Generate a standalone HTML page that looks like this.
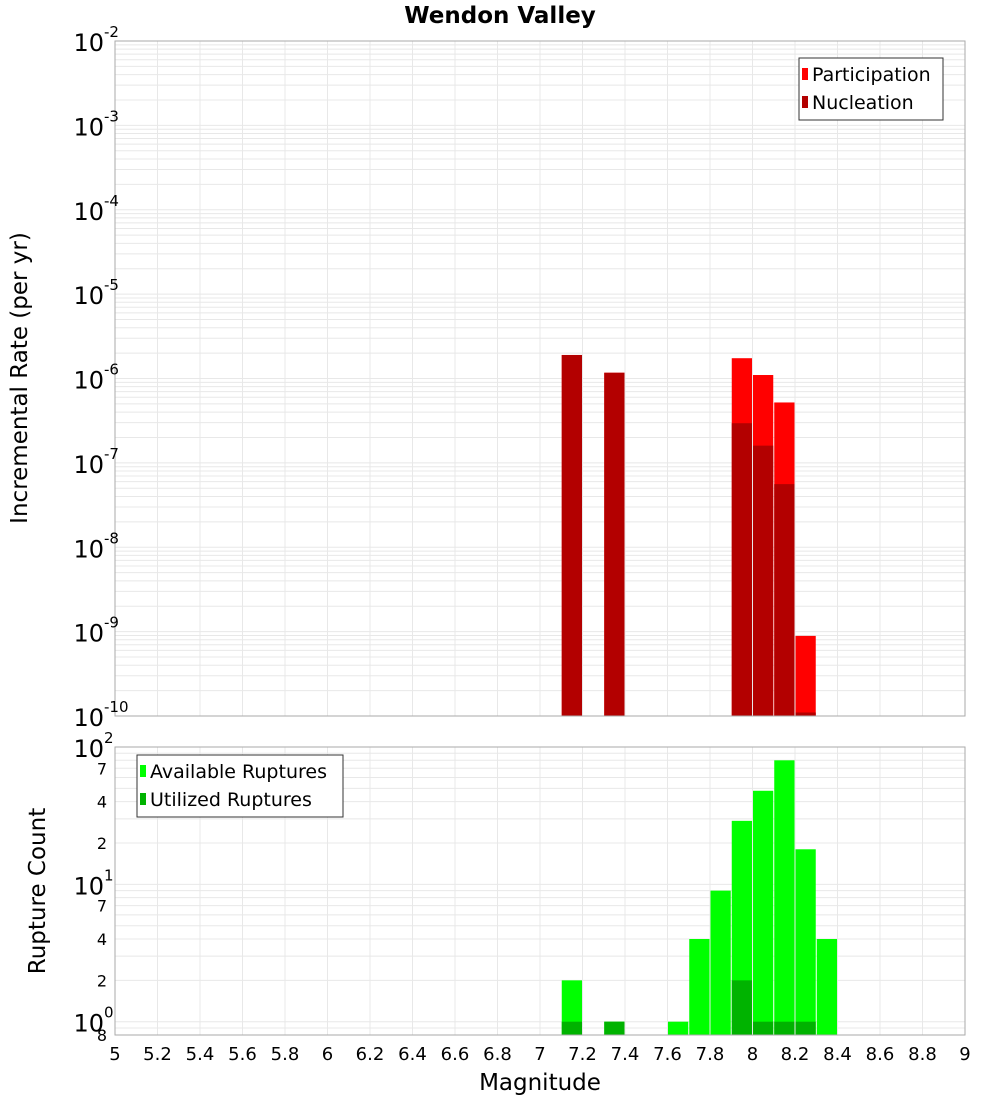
<!DOCTYPE html>
<html><head><meta charset="utf-8"><style>
body{margin:0;background:#fff;}
svg{display:block;font-family:"Liberation Sans","DejaVu Sans",sans-serif;}
</style></head><body>
<svg id="chart" width="1000" height="1100" xmlns="http://www.w3.org/2000/svg">
<rect width="1000" height="1100" fill="#fff"/>
<text x="500" y="23" text-anchor="middle" font-size="23" font-weight="bold" font-family="DejaVu Sans, sans-serif">Wendon Valley</text>
<g id="topPlot"></g>
<g id="botPlot"></g>
<text x="540" y="1090" text-anchor="middle" font-size="23" font-family="DejaVu Sans, sans-serif">Magnitude</text>
<text transform="translate(27,378) rotate(-90)" text-anchor="middle" font-size="23" font-family="DejaVu Sans, sans-serif">Incremental Rate (per yr)</text>
<text transform="translate(45,891) rotate(-90)" text-anchor="middle" font-size="23" font-family="DejaVu Sans, sans-serif">Rupture Count</text>
</svg>
<script>
const rateMags=[7.15,7.35,7.95,8.05,8.15,8.25];
const participation=[1.9e-6,1.17e-6,1.74e-6,1.1e-6,5.2e-7,8.9e-10];
const nucleation=[1.9e-6,1.17e-6,2.95e-7,1.6e-7,5.6e-8,1.1e-10];
const countMags=[7.15,7.35,7.65,7.75,7.85,7.95,8.05,8.15,8.25,8.35];
const available=[2,1,1,4,9,29,48,80,18,4];
const utilized=[1,1,0,0,0,2,1,1,1,0];
const xTicks=[5,5.2,5.4,5.6,5.8,6,6.2,6.4,6.6,6.8,7,7.2,7.4,7.6,7.8,8,8.2,8.4,8.6,8.8,9];
const topDecades=[-10,-9,-8,-7,-6,-5,-4,-3,-2];
const botMinorLabels=[2,4,7,20,40,70];

const NS="http://www.w3.org/2000/svg";
const X0=115,X1=965;
const xs=m=>X0+(m-5)/4*(X1-X0);
const T0=41,T1=716;
const yTop=v=>T0+(-2-Math.log10(v))/8*(T1-T0);
const B0=747,B1=1035,BMIN=0.8,BMAX=100;
const yBot=v=>B0+(Math.log10(BMAX)-Math.log10(v))/(Math.log10(BMAX)-Math.log10(BMIN))*(B1-B0);
function el(p,t,a){const e=document.createElementNS(NS,t);for(const k in a)e.setAttribute(k,a[k]);p.appendChild(e);return e;}
const topG=document.getElementById('topPlot'),botG=document.getElementById('botPlot');

function frame(g,y0,y1,yf,decs,lo){
  el(g,'rect',{x:X0,y:y0,width:X1-X0,height:y1-y0,fill:'#fff'});
  xTicks.forEach(t=>el(g,'line',{x1:xs(t),x2:xs(t),y1:y0,y2:y1,stroke:'#e8e8e8','stroke-width':1}));
  decs.forEach(d=>{for(let k=1;k<10;k++){const v=k*Math.pow(10,d);if(v<lo)continue;const y=yf(v);if(y<y0-0.5||y>y1)continue;
    el(g,'line',{x1:X0,x2:X1,y1:y,y2:y,stroke:'#e8e8e8','stroke-width':1});}});
}
frame(topG,T0,T1,yTop,[-10,-9,-8,-7,-6,-5,-4,-3,-2],1e-10);
frame(botG,B0,B1,yBot,[-1,0,1,2],BMIN);

const bw=(X1-X0)/40;
rateMags.forEach((m,i)=>{
  const p=el(topG,'rect',{x:xs(m)-bw/2+0.5,y:yTop(participation[i]),width:bw-1,height:T1-yTop(participation[i]),fill:'#ff0000'});
  
  
  const n=el(topG,'rect',{x:xs(m)-bw/2+0.5,y:yTop(nucleation[i]),width:bw-1,height:T1-yTop(nucleation[i]),fill:'#b30000'});
  
  
});
countMags.forEach((m,i)=>{
  if(available[i]>0){const a=el(botG,'rect',{x:xs(m)-bw/2+0.5,y:yBot(available[i]),width:bw-1,height:B1-yBot(available[i]),fill:'#00ff00'});
  
  }
  if(utilized[i]>0){const u=el(botG,'rect',{x:xs(m)-bw/2+0.5,y:yBot(utilized[i]),width:bw-1,height:B1-yBot(utilized[i]),fill:'#00b300'});
  
  }
});
el(topG,'rect',{x:X0,y:T0,width:X1-X0,height:T1-T0,fill:'none',stroke:'#aaa'});
el(botG,'rect',{x:X0,y:B0,width:X1-X0,height:B1-B0,fill:'none',stroke:'#aaa'});

topDecades.forEach(d=>{
  const y=yTop(Math.pow(10,d));
  const t=el(topG,'text',{x:104,y:y+10,'text-anchor':'end','font-size':24,'font-family':'DejaVu Sans, sans-serif'});
  
  
  t.textContent='10';
  const s=el(topG,'text',{x:104,y:y-4,'font-size':15,'font-family':'DejaVu Sans, sans-serif'});
  
  
  s.textContent=String(d);
});
[0,1,2].forEach(d=>{
  const y=yBot(Math.pow(10,d));
  const t=el(botG,'text',{x:104,y:y+10,'text-anchor':'end','font-size':24,'font-family':'DejaVu Sans, sans-serif'});
  
  
  t.textContent='10';
  const s=el(botG,'text',{x:104,y:y-4,'font-size':15,'font-family':'DejaVu Sans, sans-serif'});
  
  
  s.textContent=String(d);
});
botMinorLabels.concat([BMIN]).forEach(v=>{
  const y=yBot(v);
  const t=el(botG,'text',{x:107,y:y+6,'text-anchor':'end','font-size':16,'font-family':'DejaVu Sans, sans-serif'});
  
  
  t.textContent=String(v).replace(/^0\.(\d)$/,'$1').replace(/^(\d)0$/,'$1');
});
xTicks.forEach(v=>{
  const t=el(botG,'text',{x:xs(v),y:1060,'text-anchor':'middle','font-size':18,'font-family':'DejaVu Sans, sans-serif'});
  
  
  t.textContent=String(v);
});
function legend(g,x,y,w,items){
  const L=el(g,'g',{});
  
  
  el(L,'rect',{x:x,y:y,width:w,height:items.length*28+6,fill:'#fff',stroke:'#333'});
  items.forEach((it,i)=>{
    const s=el(L,'rect',{x:x+3,y:y+10+i*28,width:6,height:12,fill:it[1]});
    
    
    const t=el(L,'text',{x:x+13,y:y+23+i*28,'font-size':19,'font-family':'DejaVu Sans, sans-serif'});
    
    
    t.textContent=it[0];
  });
}
legend(topG,799,58,144,[['Participation','#ff0000'],['Nucleation','#b30000']]);
legend(botG,137,755,206,[['Available Ruptures','#00ff00'],['Utilized Ruptures','#00b300']]);
</script>
</body></html>
